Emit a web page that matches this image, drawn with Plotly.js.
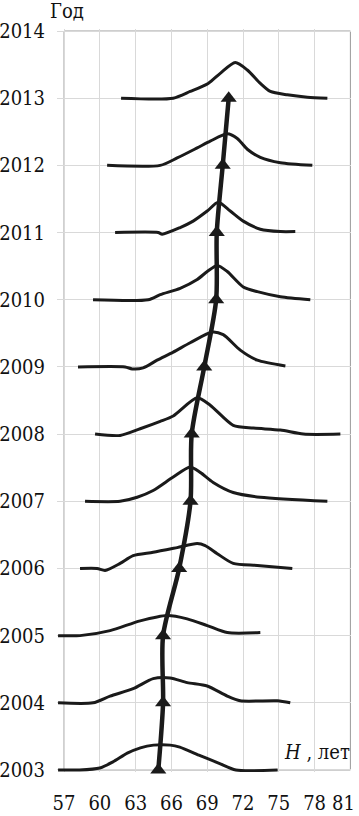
<!DOCTYPE html>
<html><head><meta charset="utf-8">
<script src="https://cdn.plot.ly/plotly-3.0.1.min.js"></script>
<style>html,body{margin:0;padding:0;background:#fff;}</style>
</head><body>
<div id="chart" style="width:359px;height:816px;"></div>
<script>
// Years (baselines of the distribution curves)
const years = [2003, 2004, 2005, 2006, 2007, 2008, 2009, 2010, 2011, 2012, 2013];

// Distribution curves: H values (years of life) and curve height above the baseline (in year units)
const x2003 = [56.5, 58.3, 60.0, 61.1, 62.3, 63.4, 64.5, 65.9, 66.7, 68.3, 70.0, 71.4, 74.9];
const h2003 = [0, 0, 0.03, 0.12, 0.25, 0.33, 0.37, 0.37, 0.34, 0.22, 0.10, 0, 0];
const x2004 = [56.5, 59.43, 60.86, 62.79, 64.47, 65.89, 67.32, 69.0, 70.68, 71.77, 74.88, 75.96];
const h2004 = [0, 0, 0.10, 0.21, 0.36, 0.37, 0.30, 0.25, 0.10, 0.03, 0.03, 0];
const x2005 = [56.5, 58.34, 60.86, 63.38, 65.64, 67.32, 69.0, 70.68, 73.45];
const h2005 = [0, 0, 0.075, 0.22, 0.30, 0.25, 0.15, 0.045, 0.045];
const x2006 = [58.34, 59.77, 60.44, 61.70, 62.79, 64.47, 66.48, 68.16, 68.83, 69.84, 71.18, 73.20, 76.13];
const h2006 = [0, 0, -0.03, 0.075, 0.19, 0.24, 0.31, 0.37, 0.34, 0.22, 0.075, 0.045, 0];
const x2007 = [58.76, 61.70, 63.13, 64.47, 66.15, 67.57, 68.41, 69.50, 71.18, 73.45, 79.07];
const h2007 = [0, 0, 0.06, 0.16, 0.36, 0.51, 0.43, 0.28, 0.13, 0.06, 0];
const x2008 = [59.60, 61.70, 63.38, 65.06, 66.15, 68.16, 69.25, 71.18, 72.86, 75.13, 77.06, 80.16];
const h2008 = [0, -0.02, 0.08, 0.19, 0.27, 0.54, 0.43, 0.13, 0.09, 0.06, 0, 0];
const x2009 = [58.17, 62.12, 62.71, 63.63, 64.80, 66.15, 67.57, 69.42, 70.34, 71.77, 73.20, 75.55];
const h2009 = [0, 0, -0.03, -0.015, 0.10, 0.22, 0.36, 0.52, 0.48, 0.25, 0.10, 0.015];
const x2010 = [59.43, 64.05, 65.06, 66.73, 68.16, 69.0, 69.84, 70.68, 72.02, 73.2, 75.13, 77.64];
const h2010 = [0, 0, 0.075, 0.17, 0.30, 0.42, 0.51, 0.42, 0.19, 0.12, 0.045, 0];
const x2011 = [61.28, 64.89, 65.22, 66.73, 67.82, 69.0, 69.92, 70.93, 72.02, 73.45, 75.13, 76.38];
const h2011 = [0, 0, -0.024, 0.075, 0.17, 0.32, 0.45, 0.32, 0.17, 0.05, 0.015, 0.015];
const x2012 = [60.61, 65.06, 66.48, 68.16, 69.25, 70.68, 71.52, 72.36, 73.45, 75.13, 77.81];
const h2012 = [0, 0, 0.11, 0.26, 0.36, 0.47, 0.40, 0.24, 0.12, 0.04, 0];
const x2013 = [61.78, 66.15, 67.57, 69.08, 70.09, 71.35, 72.36, 73.45, 74.29, 75.71, 77.39, 79.07];
const h2013 = [0, 0, 0.10, 0.22, 0.37, 0.53, 0.42, 0.22, 0.10, 0.05, 0.015, 0];

// Mean H per year (thick line with triangles)
const meanH = [64.9, 65.3, 65.3, 66.65, 67.6, 67.7, 68.75, 69.75, 69.8, 70.3, 70.8];

// Tick labels
const xTicks = [57, 60, 63, 66, 69, 72, 75, 78, 81];
const yTicks = [2003, 2004, 2005, 2006, 2007, 2008, 2009, 2010, 2011, 2012, 2013, 2014];

const curveX = [x2003, x2004, x2005, x2006, x2007, x2008, x2009, x2010, x2011, x2012, x2013];
const curveH = [h2003, h2004, h2005, h2006, h2007, h2008, h2009, h2010, h2011, h2012, h2013];

const INK = '#1a1a1a';
const FONT = 'DejaVu Serif Condensed';
const lastTick = xTicks[xTicks.length - 1];

const traces = [];
years.forEach((yr, k) => {
  traces.push({
    type: 'scatter', mode: 'lines',
    x: curveX[k],
    y: curveH[k].map(h => yr + h),
    line: {color: INK, width: 3, shape: 'spline', smoothing: 0.7},
    hoverinfo: 'skip', showlegend: false
  });
});
traces.push({
  type: 'scatter', mode: 'lines+markers',
  x: meanH, y: years,
  line: {color: INK, width: 4.5, shape: 'spline', smoothing: 0.8},
  marker: {symbol: 'triangle-up', size: 14, color: INK},
  cliponaxis: false,
  showlegend: false
});

const layout = {
  width: 359, height: 816,
  margin: {l: 57, r: 8, t: 29, b: 44, pad: 0},
  paper_bgcolor: '#fff', plot_bgcolor: '#fff',
  showlegend: false,
  font: {family: FONT, size: 20, color: '#111'},
  xaxis: {
    range: [56.41, 81.05],
    tickvals: xTicks,
    // the last label is drawn as an annotation, nudged left so it stays inside the image
    ticktext: xTicks.map(v => v === lastTick ? '' : String(v)),
    showgrid: true, gridcolor: '#d9d9d9', gridwidth: 1,
    zeroline: false, showline: false, ticks: '',
    ticklabelstandoff: 17,
    ticklabeloverflow: 'allow',
    tickfont: {family: FONT, size: 20, color: '#111'},
    fixedrange: true
  },
  yaxis: {
    range: [2002.97, 2014.03],
    tickvals: yTicks, ticktext: yTicks.map(String),
    showgrid: true, gridcolor: '#d9d9d9', gridwidth: 1,
    zeroline: false, showline: false, ticks: '',
    ticklabelstandoff: 11,
    tickfont: {family: FONT, size: 20, color: '#111'},
    fixedrange: true
  },
  shapes: [{
    type: 'rect', xref: 'x', yref: 'y',
    x0: 57, x1: 81, y0: 2003, y1: 2014,
    line: {color: '#9a9a9a', width: 1}, layer: 'below'
  }],
  annotations: [
    {text: 'Год', xref: 'paper', yref: 'paper', x: 0.0357, y: 1.0242,
     xanchor: 'center', yanchor: 'middle', showarrow: false,
     font: {family: FONT, size: 20, color: '#111'}},
    {text: '<i>H</i> , лет', xref: 'x', yref: 'y', x: 81, y: 2003.27,
     xanchor: 'right', yanchor: 'middle', xshift: 2, showarrow: false,
     font: {family: FONT, size: 20, color: '#111'}},
    {text: String(lastTick), xref: 'x', yref: 'paper', x: lastTick, y: -0.042,
     xanchor: 'right', yanchor: 'middle', xshift: 7, showarrow: false,
     font: {family: FONT, size: 20, color: '#111'}}
  ]
};

Plotly.newPlot('chart', traces, layout, {displayModeBar: false, staticPlot: true});
</script>
</body></html>
